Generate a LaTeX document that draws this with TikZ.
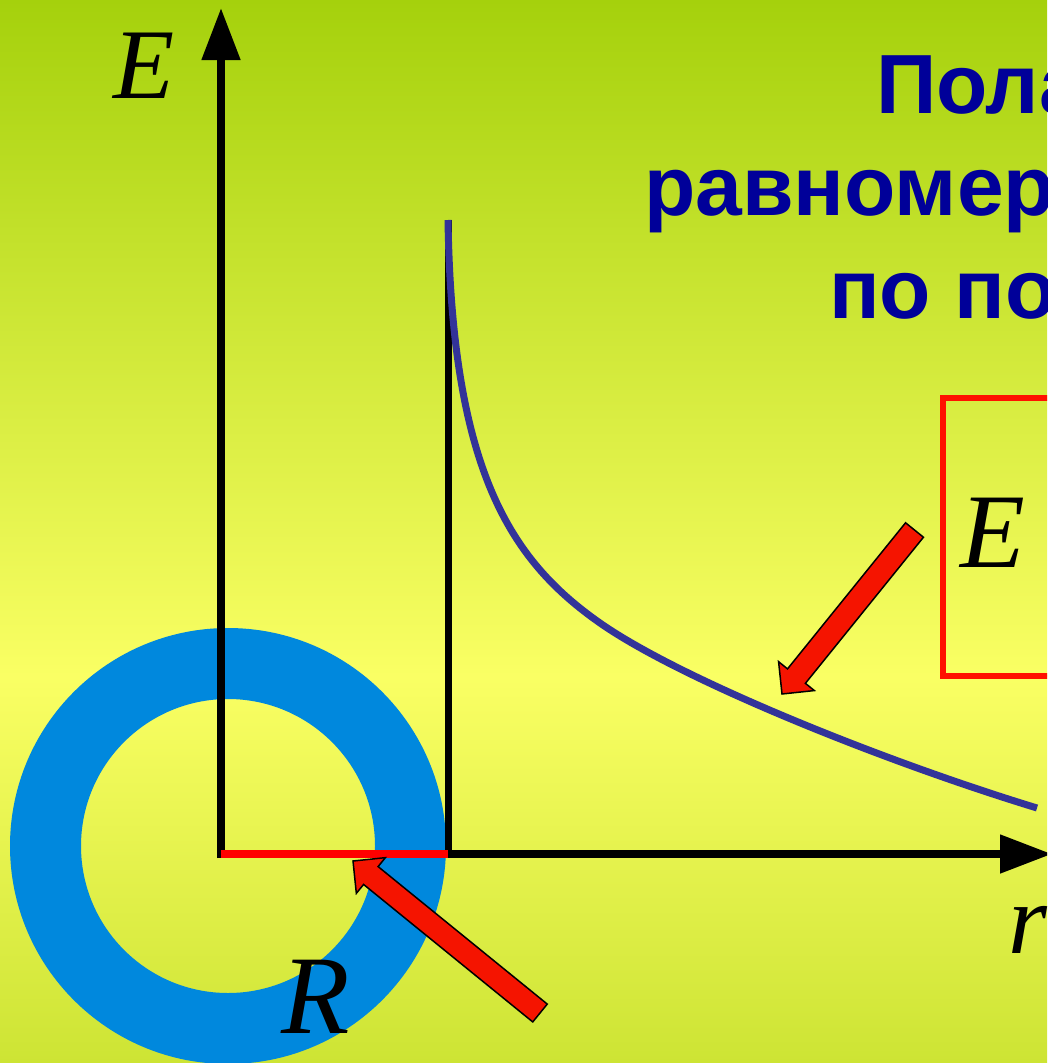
\documentclass[tikz,border=0pt]{standalone}
\usepackage{fontspec}
\setmainfont{Liberation Serif}
\newfontfamily\titlefont{Liberation Sans}
\usetikzlibrary{arrows.meta,calc}
\definecolor{bgtop}{RGB}{165,209,12}
\definecolor{bgmid}{RGB}{250,255,100}
\definecolor{bgbot}{RGB}{205,228,52}
\definecolor{titleblue}{RGB}{0,0,153}
\definecolor{ringblue}{RGB}{0,136,221}
\definecolor{curveblue}{RGB}{51,51,153}
\definecolor{arrowred}{RGB}{245,20,0}
\definecolor{boxred}{RGB}{255,17,0}
\newcommand{\blkarrow}[2]{%
  \path ($(#1)!23pt!(#2)$) coordinate (#1h);
  \draw[redarrow] (#1) -- ($(#1h)!23pt!90:(#2)$) -- ($(#1h)!11.5pt!90:(#2)$)
    -- ($(#2)!11.5pt!-90:(#1)$) -- ($(#2)!11.5pt!90:(#1)$)
    -- ($(#1h)!11.5pt!-90:(#2)$) -- ($(#1h)!23pt!-90:(#2)$) -- cycle;}
\begin{document}
\begin{tikzpicture}[x=1pt,y=-1pt,
  axis/.style={line width=8pt,-{Triangle[length=52pt,width=37pt]}},
  redarrow/.style={fill=arrowred,draw=black,line width=1.5pt,line join=miter},
  title/.style={titleblue,font=\fontsize{84}{100}\selectfont\titlefont\bfseries,anchor=base west,inner sep=0pt},
  lab/.style={black,font=\itshape,anchor=base west,inner sep=0pt}]
\useasboundingbox (0,0) rectangle (1047,1063);
\clip (0,0) rectangle (1047,1063);
% background
\shade[top color=bgtop,bottom color=bgmid] (0,0) rectangle (1047,676);
\shade[top color=bgmid,bottom color=bgbot] (0,675) rectangle (1047,1063);
% ring
\fill[ringblue,even odd rule] (228,846) circle[radius=218pt] (228,846) circle[radius=147pt];
% coordinates
\coordinate (O) at (221,854);
\coordinate (Ybot) at (221,858);
\coordinate (Ytip) at (221,8);
\coordinate (Xleft) at (217,854);
\coordinate (Xtip) at (1052,854);
\coordinate (Rb) at (448,854);
\coordinate (Vtop) at (448,220);
\coordinate (Vbot) at (448,858);
\coordinate (Cmid) at (600,623);
\coordinate (Cend) at (1037,808);
% axes
\draw[axis] (Ybot) -- (Ytip);
\draw[axis] (Xleft) -- (Xtip);
\draw[line width=7pt] (Vbot) -- (Vtop);
\draw[red,line width=8pt] (O) -- (Rb);
% curve
\draw[curveblue,line width=7pt,line cap=butt]
  (Vtop) .. controls (452,470) and (510,560) .. (Cmid)
         .. controls (680,679) and (880,760) .. (Cend);
% box
\draw[boxred,line width=6pt] (943,398) rectangle (1200,676);
% pointer arrows
\coordinate (a1tip) at (353,861);
\coordinate (a1tail) at (540,1013);
\coordinate (a2tip) at (782,694);
\coordinate (a2tail) at (914.5,530);
\blkarrow{a1tip}{a1tail}
\blkarrow{a2tip}{a2tail}
% labels
\node[lab,font=\fontsize{100}{100}\selectfont\itshape] (Elab) at (113,98) {E};
\node[lab,font=\fontsize{106}{106}\selectfont\itshape] (Ebox) at (960,567) {E};
\node[lab,font=\fontsize{112}{112}\selectfont\itshape] (Rlab) at (281,1033) {R};
\node[lab,font=\fontsize{100}{100}\selectfont\itshape] (rlab) at (1008,953) {r};
% title
\node[title] (t1) at (876,113) {Пола};
\node[title] (t2) at (644,215) {равномерно};
\node[title] (t3) at (829,318) {по поверхности};
\end{tikzpicture}
\end{document}
